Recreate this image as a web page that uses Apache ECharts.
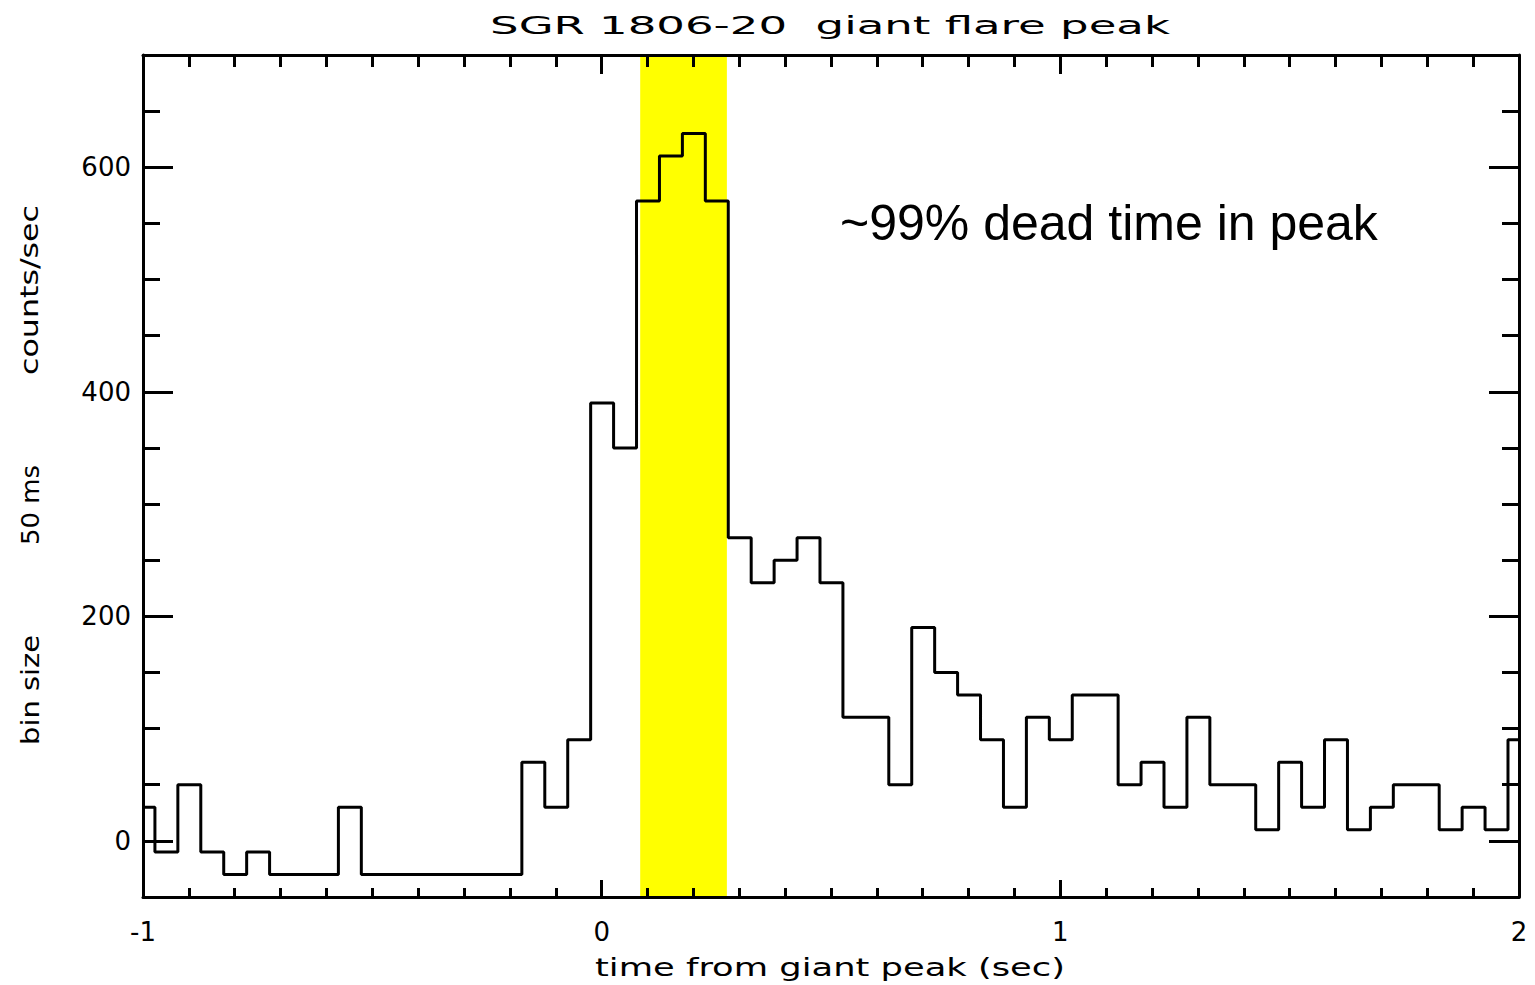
<!DOCTYPE html>
<html><head><meta charset="utf-8">
<script src="https://cdn.jsdelivr.net/npm/echarts@6/dist/echarts.min.js"></script>
<style>html,body{margin:0;padding:0;background:#fff}#c{width:1535px;height:985px}</style>
</head><body><div id="c"></div>
<script>
// ---------- data ----------
const titleText = 'SGR 1806-20  giant flare peak';
const xAxisTitle = 'time from giant peak (sec)';
const yAxisTitleParts = ['bin size', '50 ms', 'counts/sec'];
const annotationText = '~99% dead time in peak';
const xTickValues = [-1, 0, 1, 2];
const xTickLabels = ['-1', '0', '1', '2'];
const yTickValues = [0, 200, 400, 600];
const yTickLabels = ['0', '200', '400', '600'];
const xRange = [-1, 2];
const yRange = [-50, 700];
// 50 ms bins; the first and last bins are cut by the axis range
const firstFullBinStart = -0.974;
const binWidth = 0.05;
const countsPerSec = [
  30,
  -10, 50, -10, -30, -10, -30, -30, -30, 30,
  -30, -30, -30, -30, -30, -30, -30,
  70, 30, 90, 390, 350, 570, 610, 630, 570,
  270, 230, 250, 270, 230, 110, 110, 50, 190, 150,
  130, 90, 30, 110, 90, 130, 130, 50, 70, 30,
  110, 50, 50, 10, 70, 30, 90, 10, 30, 50,
  50, 10, 30, 10,
  90
];
const deadTimeWindow = [0.084, 0.273];

// ---------- build ----------
const binLeftEdges = countsPerSec.map((v, i) => i === 0 ? xRange[0] : +(firstFullBinStart + (i - 1) * binWidth).toFixed(4));
const stepPoints = countsPerSec.map((v, i) => [binLeftEdges[i], v]);
stepPoints.push([xRange[1], countsPerSec[countsPerSec.length - 1]]);

const hersheyFont = '"DejaVu Sans"';
const labelWeight = 'normal';
const mctx = document.createElement('canvas').getContext('2d');
function scaleFor(text, size, weight, family, target) {
  mctx.font = weight + ' ' + size + 'px ' + family;
  return target / mctx.measureText(text).width;
}

const chart = echarts.init(document.getElementById('c'), null, {renderer: 'svg'});
const black = '#000';
function xAx(pos, interval, len, showLine, showLabel) {
  return {type: 'value', position: pos, min: xRange[0], max: xRange[1], interval: interval, offset: 0,
    splitLine: {show: false}, z: 10,
    axisLine: {show: showLine, onZero: false, lineStyle: {color: black, width: 3}},
    axisTick: {show: true, inside: true, length: len, lineStyle: {color: black, width: 3}},
    axisLabel: {show: showLabel, margin: 22, color: black, fontSize: 26, fontFamily: hersheyFont, fontWeight: labelWeight,
      formatter: function (v) { const i = xTickValues.indexOf(Math.round(v * 1000) / 1000); return i >= 0 ? xTickLabels[i] : ''; }}
  };
}
function yAxMajor(pos, showLabel) {
  return {type: 'value', position: pos, min: yRange[0], max: yRange[1], offset: 0,
    splitLine: {show: false}, z: 10,
    axisLine: {show: true, onZero: false, lineStyle: {color: black, width: 3}},
    axisTick: {show: true, inside: true, length: 30, customValues: yTickValues, lineStyle: {color: black, width: 3}},
    axisLabel: {show: showLabel, margin: 12, customValues: yTickValues, color: black, fontSize: 26, fontFamily: hersheyFont, fontWeight: labelWeight,
      formatter: function (v) { const i = yTickValues.indexOf(v); return i >= 0 ? yTickLabels[i] : ''; }}
  };
}
function yAxMinor(pos) {
  return {type: 'value', position: pos, min: yRange[0], max: yRange[1], interval: 50, offset: 0,
    splitLine: {show: false}, z: 10,
    axisLine: {show: false, onZero: false},
    axisTick: {show: true, inside: true, length: 17, lineStyle: {color: black, width: 3}},
    axisLabel: {show: false}
  };
}
function txt(text, x, y, size, target, rot) {
  const el = {type: 'text', x: x, y: y, z: 20,
    scaleX: scaleFor(text, size, labelWeight, hersheyFont, target),
    style: {text: text, fill: black, font: labelWeight + ' ' + size + 'px ' + hersheyFont, textAlign: 'center', textVerticalAlign: 'middle'}};
  if (rot) el.rotation = rot;
  return el;
}

const option = {
  backgroundColor: '#fff',
  animation: false,
  grid: {left: 143, right: 16, top: 55, bottom: 88, containLabel: false},
  xAxis: [
    xAx('bottom', 1, 17, true, true),
    xAx('bottom', 0.1, 9, false, false),
    xAx('top', 1, 19, true, false),
    xAx('top', 0.1, 12, false, false)
  ],
  yAxis: [
    yAxMajor('left', true),
    yAxMinor('left'),
    yAxMajor('right', false),
    yAxMinor('right')
  ],
  series: [{
    type: 'line',
    xAxisIndex: 0, yAxisIndex: 0,
    step: 'end',
    data: stepPoints,
    showSymbol: false,
    symbol: 'none',
    z: 5,
    lineStyle: {color: black, width: 3},
    markArea: {
      silent: true,
      itemStyle: {color: '#ffff00', opacity: 1},
      data: [[{xAxis: deadTimeWindow[0]}, {xAxis: deadTimeWindow[1]}]]
    }
  }],
  graphic: [
    txt(titleText, 830, 25, 25, 680),
    txt(xAxisTitle, 830, 967, 25, 470),
    txt(yAxisTitleParts[0], 30, 690, 25, 110, Math.PI / 2),
    txt(yAxisTitleParts[1], 30, 505, 25, 80, Math.PI / 2),
    txt(yAxisTitleParts[2], 30, 290, 25, 170, Math.PI / 2),
    {type: 'text', x: 840, y: 223, z: 20,
      style: {text: annotationText, fill: black, font: '50px "Liberation Sans"', textAlign: 'left', textVerticalAlign: 'middle'}}
  ]
};
chart.setOption(option);
</script>
</body></html>
